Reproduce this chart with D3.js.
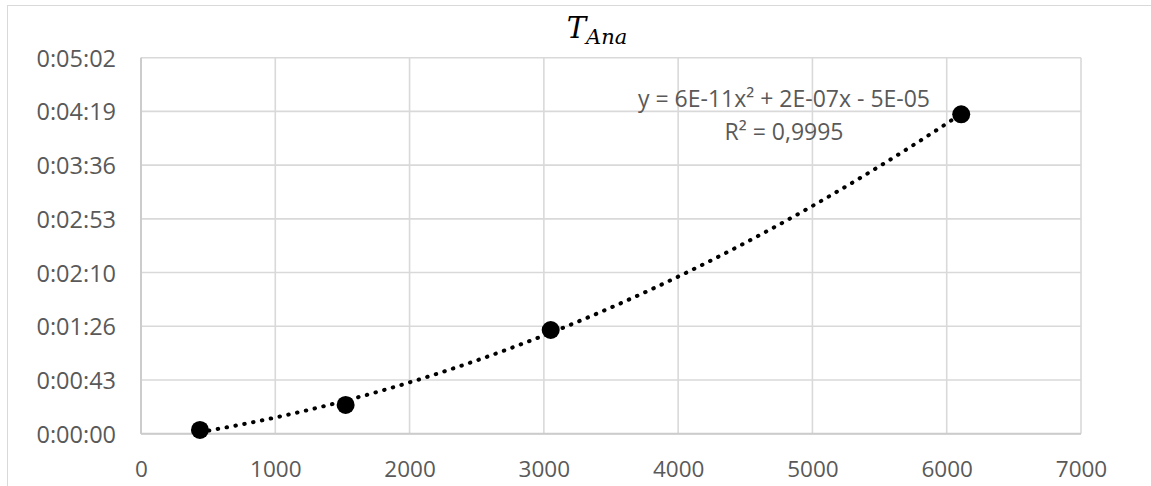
<!DOCTYPE html>
<html>
<head>
<meta charset="utf-8">
<script src="https://cdn.jsdelivr.net/npm/d3@7"></script>
<style>
  html, body { margin: 0; padding: 0; background: #fff; }
  svg { display: block; }
</style>
</head>
<body>
<svg id="chart" width="1151" height="486"></svg>
<script>
// ---- data ----
const xValues = [439, 1524, 3051, 6108];          // x
const timeSeconds = [3.0, 23.1, 83.4, 256.9];      // T_Ana in seconds
const xTicks = [0, 1000, 2000, 3000, 4000, 5000, 6000, 7000];
const yTicksDays = [0, 0.0005, 0.001, 0.0015, 0.002, 0.0025, 0.003, 0.0035];
const titleMain = "T";
const titleSub = "Ana";
const eqLine1 = "y = 6E-11x² + 2E-07x - 5E-05";
const eqLine2 = "R² = 0,9995";

(function () {
// ---- setup ----
const W = 1151, H = 486;
const svg = d3.select("#chart");
const pLeft = 141, pRight = 1081, pTop = 57.7, pBottom = 433.7;
const textColor = "#595959";
const gridColor = "#d9d9d9";
const font = "'Open Sans', 'Liberation Sans', sans-serif";

const x = d3.scaleLinear().domain([0, 7000]).range([pLeft, pRight]);
const y = d3.scaleLinear().domain([0, 0.0035 * 86400]).range([pBottom, pTop]);

// chart area border (cropped)
svg.append("rect").attr("x", 7.5).attr("y", 5.5).attr("width", W + 20).attr("height", H + 20)
  .attr("fill", "#fff").attr("stroke", "#d9d9d9").attr("stroke-width", 1);

function fmt(days) {
  const s = Math.round(days * 86400);
  const h = Math.floor(s / 3600), m = Math.floor((s % 3600) / 60), ss = s % 60;
  return h + ":" + String(m).padStart(2, "0") + ":" + String(ss).padStart(2, "0");
}

// gridlines
const grid = svg.append("g");
grid.selectAll("line.h").data(yTicksDays).join("line").attr("class", "h")
  .attr("x1", pLeft).attr("x2", pRight)
  .attr("y1", d => y(d * 86400)).attr("y2", d => y(d * 86400))
  .attr("stroke", gridColor).attr("stroke-width", 1.6);
grid.selectAll("line.v").data(xTicks).join("line").attr("class", "v")
  .attr("y1", pTop).attr("y2", pBottom)
  .attr("x1", d => x(d)).attr("x2", d => x(d))
  .attr("stroke", gridColor).attr("stroke-width", 1.6);

// axes lines
svg.append("line").attr("x1", pLeft).attr("x2", pRight).attr("y1", pBottom).attr("y2", pBottom)
  .attr("stroke", "#cccccc").attr("stroke-width", 2);
svg.append("line").attr("x1", pLeft).attr("x2", pLeft).attr("y1", pTop).attr("y2", pBottom)
  .attr("stroke", "#cccccc").attr("stroke-width", 2);

// axis labels using d3 axes
const xAxis = d3.axisBottom(x).tickValues(xTicks).tickSize(0).tickPadding(0).tickFormat(d3.format("d"));
const gx = svg.append("g").attr("transform", `translate(0, ${pBottom})`).call(xAxis);
gx.select(".domain").remove();
gx.selectAll("text").attr("dy", null).attr("y", 43)
  .attr("fill", textColor).style("font-family", font).style("font-size", "22.5px");

const yAxis = d3.axisLeft(y).tickValues(yTicksDays.map(d => d * 86400)).tickSize(0).tickPadding(0)
  .tickFormat(d => fmt(d / 86400));
const gy = svg.append("g").attr("transform", `translate(116, 0)`).call(yAxis);
gy.select(".domain").remove();
gy.selectAll("text").attr("x", 0).attr("dy", "0.36em")
  .attr("fill", textColor).style("font-family", font).style("font-size", "23.5px");

// quadratic least-squares trendline fitted to the points
function fitQuad(xs, ys) {
  let S = [0,0,0,0,0], T = [0,0,0];
  xs.forEach((xi, i) => {
    for (let k = 0; k < 5; k++) S[k] += Math.pow(xi, k);
    for (let k = 0; k < 3; k++) T[k] += ys[i] * Math.pow(xi, k);
  });
  const A = [[S[0],S[1],S[2],T[0]],[S[1],S[2],S[3],T[1]],[S[2],S[3],S[4],T[2]]];
  for (let i = 0; i < 3; i++) {
    let p = i; for (let r = i+1; r < 3; r++) if (Math.abs(A[r][i]) > Math.abs(A[p][i])) p = r;
    [A[i], A[p]] = [A[p], A[i]];
    for (let r = 0; r < 3; r++) if (r !== i) {
      const f = A[r][i] / A[i][i];
      for (let c = i; c < 4; c++) A[r][c] -= f * A[i][c];
    }
  }
  return [A[0][3]/A[0][0], A[1][3]/A[1][1], A[2][3]/A[2][2]];
}
const coef = fitQuad(xValues, timeSeconds);
const x0 = d3.min(xValues), x1 = d3.max(xValues);
const trendPts = d3.range(0, 201).map(i => {
  const xv = x0 + (x1 - x0) * i / 200;
  return [xv, coef[0] + coef[1] * xv + coef[2] * xv * xv];
});
svg.append("path").datum(trendPts)
  .attr("d", d3.line().x(d => x(d[0])).y(d => y(d[1])))
  .attr("fill", "none").attr("stroke", "#000").attr("stroke-width", 4)
  .attr("stroke-linecap", "round").attr("stroke-dasharray", "0.5 8.5");

// markers
svg.selectAll("circle.pt").data(xValues).join("circle").attr("class", "pt")
  .attr("cx", d => x(d)).attr("cy", (d, i) => y(timeSeconds[i]))
  .attr("r", 9).attr("fill", "#000");

// equation label
const eq = svg.append("text").attr("text-anchor", "middle")
  .attr("fill", textColor).style("font-family", font).style("font-size", "23px");
eq.append("tspan").attr("x", 784).attr("y", 107).text(eqLine1);
eq.append("tspan").attr("x", 784).attr("y", 140).text(eqLine2);

// title
const t = svg.append("text").attr("x", 597).attr("y", 38.3).attr("text-anchor", "middle")
  .attr("fill", "#000").style("font-family", "'DejaVu Serif', serif").style("font-style", "italic");
t.append("tspan").style("font-size", "29px").text(titleMain);
t.append("tspan").attr("dy", 6).style("font-size", "21px").text(titleSub);
})();
</script>
</body>
</html>
